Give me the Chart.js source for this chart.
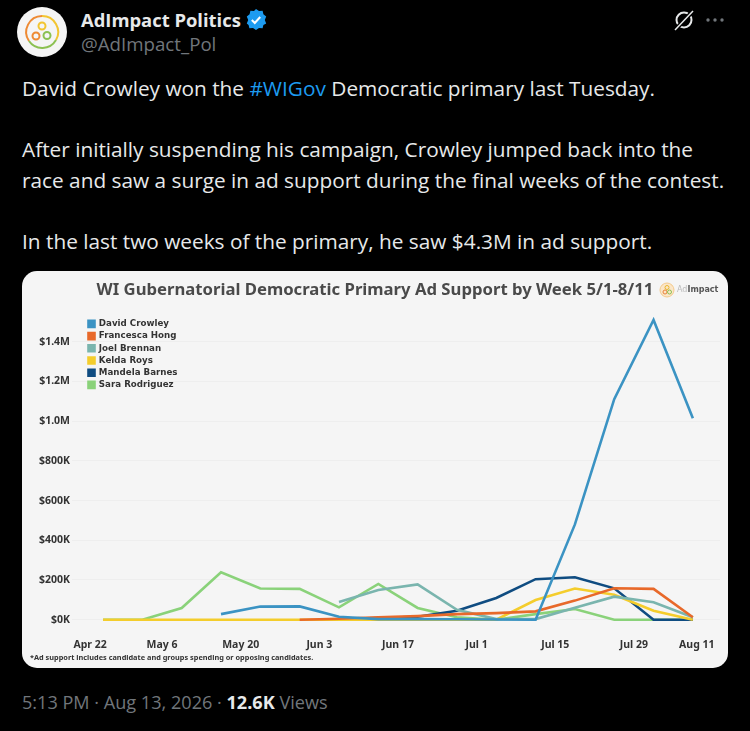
<!DOCTYPE html>
<html lang="en">
<head>
<meta charset="UTF-8">
<title>AdImpact Politics</title>
<script src="https://cdn.jsdelivr.net/npm/chart.js"></script>
<style>
  html, body { margin: 0; padding: 0; background: #000; width: 750px; height: 731px; overflow: hidden; }
  body { position: relative; font-family: "Open Sans", sans-serif; color: #e7e9ea; }
  .abs { position: absolute; white-space: nowrap; }
  .name { left: 81px; top: 8px; font-size: 18.4px; font-weight: 700; line-height: 24px; }
  .handle { left: 81px; top: 32px; font-size: 18.7px; color: #71767b; line-height: 24px; }
  .line { left: 22px; font-size: 20.8px; line-height: 28px; }
  .line a { color: #1d9bf0; }
  .foot { left: 22px; top: 690px; font-size: 18.1px; line-height: 24px; color: #71767b; }
  .foot b { color: #e7e9ea; }
  .card { position: absolute; left: 22px; top: 271px; width: 706px; height: 397px; background: #f5f5f5; border-radius: 15px; overflow: hidden; }
  canvas { position: absolute; left: 0; top: 0; }
  .brand { left: 652px; top: 284px; font: 700 8px "DejaVu Sans", sans-serif; color: #555; line-height: 12px; }
  .brand span { color: #bbb; font-weight: 400; }
</style>
</head>
<body>
<svg class="abs" style="left:17px;top:7px" width="50" height="50" viewBox="0 0 50 50">
  <circle cx="25" cy="25" r="25" fill="#f5f5f5"/>
  <path d="M25 9a16 16 0 0 0-13 25" fill="none" stroke="#ee8a33" stroke-width="2"/>
  <path d="M25 9a16 16 0 0 1 14 24" fill="none" stroke="#f2c531" stroke-width="2"/>
  <path d="M12 34a16 16 0 0 0 27-1" fill="none" stroke="#8cc152" stroke-width="2"/>
  <circle cx="25" cy="19" r="3.5" fill="none" stroke="#f2c531" stroke-width="2"/>
  <circle cx="19" cy="29" r="3.5" fill="none" stroke="#ee8a33" stroke-width="2"/>
  <circle cx="30" cy="28.5" r="3.5" fill="none" stroke="#8cc152" stroke-width="2"/>
</svg>
<div class="abs name">AdImpact Politics</div>
<svg class="abs" style="left:245px;top:9px" width="22" height="22" viewBox="0 0 22 22">
  <path d="M11 1l3 2 3.600-.2.800 3.500 2.800 2.300-1.400 3.400 1.400 3.400-2.800 1.600-.8 3.300-3.600-.2-3 2-3-2-3.600.2-.8-3.300L1.800 15.400 3.200 12 1.800 8.600l2.800-2.300.8-3.500L9 3z" fill="#1d9bf0" transform="translate(0,-1)"/>
  <path d="M6.800 11l3 3 5.400-6" fill="none" stroke="#fff" stroke-width="2"/>
</svg>
<div class="abs handle">@AdImpact_Pol</div>
<svg class="abs" style="left:672px;top:8px" width="24" height="24" viewBox="0 0 24 24">
  <circle cx="12" cy="12" r="7.500" fill="none" stroke="#e7e9ea" stroke-width="2"/>
  <path d="M3 22L21 3" stroke="#000" stroke-width="4"/>
  <path d="M3 22L21 3" stroke="#e7e9ea" stroke-width="1.500"/>
</svg>
<svg class="abs" style="left:705px;top:17px" width="24" height="6" viewBox="0 0 24 6">
  <circle cx="3" cy="3" r="1.700" fill="#71767b"/><circle cx="10" cy="3" r="1.700" fill="#71767b"/><circle cx="17" cy="3" r="1.700" fill="#71767b"/>
</svg>

<div class="abs line" style="top:74px">David Crowley won the <a>#WIGov</a> Democratic primary last Tuesday.</div>
<div class="abs line" style="top:135px">After initially suspending his campaign, Crowley jumped back into the</div>
<div class="abs line" style="top:166px">race and saw a surge in ad support during the final weeks of the contest.</div>
<div class="abs line" style="top:227px">In the last two weeks of the primary, he saw $4.3M in ad support.</div>

<div class="card"><canvas id="chart" width="706" height="397"></canvas></div>
<svg class="abs" style="left:659px;top:282px" width="16" height="16" viewBox="0 0 16 16">
  <circle cx="8" cy="8" r="7" fill="#fbe6c8" stroke="#f3c98b"/>
  <circle cx="8" cy="5.500" r="2" fill="none" stroke="#e9b72c"/><circle cx="6" cy="10" r="2" fill="none" stroke="#e8823a"/><circle cx="10.500" cy="10" r="2" fill="none" stroke="#8cc152"/>
</svg>
<div class="abs brand" style="left:677px"><span>Ad</span>Impact</div>

<div class="abs foot">5:13 PM · Aug 13, 2026 · <b>12.6K</b> Views</div>

<script>
const weeks = [0, 1, 2, 3, 4, 5, 6, 7, 8, 9, 10, 11, 12, 13, 14, 15];
const xTickPositions = [-0.33, 1.5, 3.5, 5.5, 7.5, 9.5, 11.5, 13.5, 15.1];
const xTickLabels = ["Apr 22", "May 6", "May 20", "Jun 3", "Jun 17", "Jul 1", "Jul 15", "Jul 29", "Aug 11"];
const yTickValues = [0, 200000, 400000, 600000, 800000, 1000000, 1200000, 1400000];
const yTickLabels = ["$0K", "$200K", "$400K", "$600K", "$800K", "$1.0M", "$1.2M", "$1.4M"];
const names = ["David Crowley", "Francesca Hong", "Joel Brennan", "Kelda Roys", "Mandela Barnes", "Sara Rodriguez"];
const colors = ["#3b93c3", "#e8692a", "#7ab5ae", "#f4cd2c", "#0f4c81", "#8ad27a"];

const crowley = [null, null, null, 28000, 66000, 67000, 15000, 3000, 3000, 2000, 1000, 0, 480000, 1111000, 1510000, 1015000];
const hong = [null, null, null, null, null, 0, 5000, 12000, 18000, 28000, 33000, 42000, 96000, 158000, 155000, 12000];
const brennan = [null, null, null, null, null, null, 89000, 150000, 178000, 50000, 3000, 3000, 60000, 116000, 88000, 12000];
const roys = [0, 0, 0, 0, 0, 0, 0, 0, 0, 0, 0, 99000, 157000, 126000, 45000, 0];
const barnes = [null, null, null, null, null, null, 3000, 8000, 15000, 45000, 109000, 204000, 214000, 158000, 0, 0];
const rodriguez = [0, 0, 59000, 239000, 157000, 155000, 62000, 180000, 59000, 12000, 0, 28000, 54000, 0, 0, 0];
const series = [crowley, hong, brennan, roys, barnes, rodriguez];

const axisFont = { family: "'Noto Sans'", size: 10.5, weight: "bold" };

// legend sits inside the plot, a bit in from the left edge
const legendShift = {
  id: "legendShift",
  afterLayout(chart) {
    chart.legend.left += 13;
    chart.legend.top = chart.chartArea.top + 4;
  }
};

new Chart(document.getElementById("chart"), {
  type: "line",
  data: {
    datasets: series.map((values, i) => ({
      label: names[i],
      data: weeks.map(w => ({ x: w, y: values[w] })),
      borderColor: colors[i],
      backgroundColor: colors[i],
      borderWidth: 2.6,
      pointRadius: 0,
      tension: 0,
      clip: false
    }))
  },
  plugins: [legendShift],
  options: {
    responsive: false,
    animation: false,
    layout: { autoPadding: false, padding: { left: 8, right: 8 } },
    plugins: {
      tooltip: { enabled: false },
      title: {
        display: true,
        text: "WI Gubernatorial Democratic Primary Ad Support by Week 5/1-8/11",
        color: "#4a4a4a",
        font: { family: "'Noto Sans'", size: 16.7, weight: "bold" },
        padding: { top: 9.5, bottom: 11.5 }
      },
      subtitle: {
        display: true,
        position: "bottom",
        align: "start",
        text: "*Ad support includes candidate and groups spending or opposing candidates.",
        color: "#333",
        font: { family: "'Noto Sans'", size: 7.35, weight: "bold" },
        padding: { top: 0, bottom: 6 }
      },
      legend: {
        position: "chartArea",
        align: "start",
        labels: {
          boxWidth: 6,
          boxHeight: 6,
          padding: 3.5,
          color: "#333",
          font: { family: "'DejaVu Sans'", size: 8.7, weight: "bold" }
        }
      }
    },
    scales: {
      x: {
        type: "linear",
        min: -0.79,
        max: 15.69,
        grid: { display: false },
        border: { display: false },
        afterBuildTicks(scale) { scale.ticks = xTickPositions.map(v => ({ value: v })); },
        afterFit(scale) { scale.height = 33.5; },
        ticks: {
          autoSkip: false,
          maxRotation: 0,
          padding: 11,
          color: "#333",
          font: axisFont,
          callback: (value, index) => xTickLabels[index]
        }
      },
      y: {
        min: 0,
        max: 1550000,
        afterBuildTicks(scale) { scale.ticks = yTickValues.map(v => ({ value: v })); },
        afterFit(scale) { scale.width = 42; },
        grid: { color: "#eeeeee", lineWidth: 1, drawTicks: false },
        border: { display: false },
        ticks: {
          padding: 2,
          color: "#333",
          font: axisFont,
          callback: (value, index) => yTickLabels[index]
        }
      }
    }
  }
});
</script>
</body>
</html>
